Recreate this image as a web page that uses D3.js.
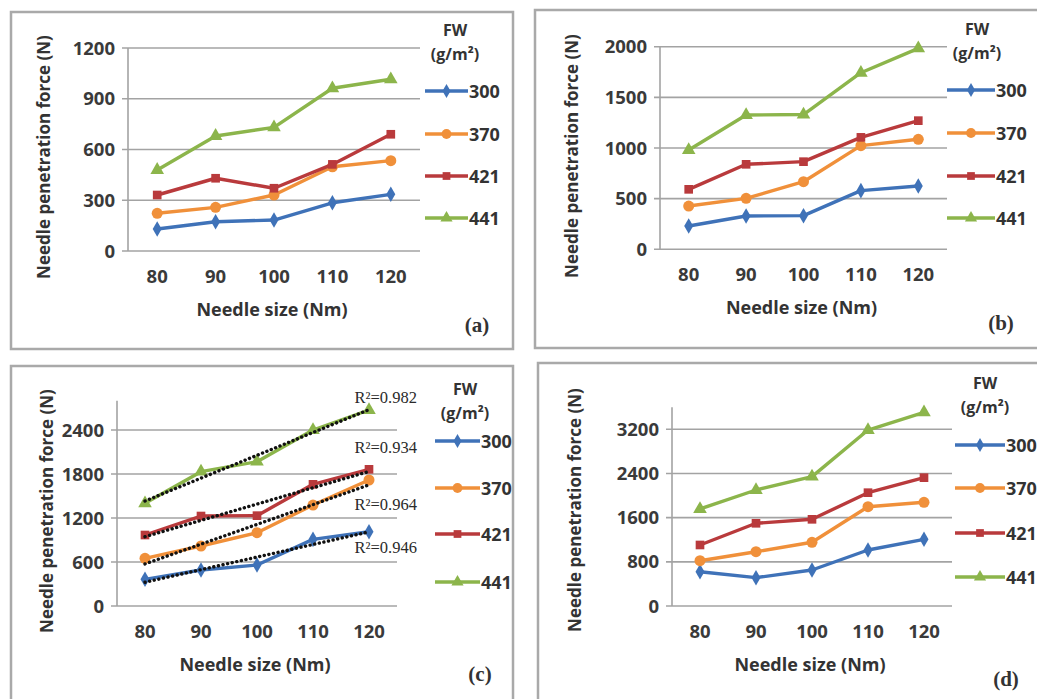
<!DOCTYPE html>
<html>
<head>
<meta charset="utf-8">
<script src="https://cdn.jsdelivr.net/npm/d3@7"></script>
<style>
  body { margin: 0; background: #fff; }
  svg { display: block; }
</style>
</head>
<body>
<svg id="chart" width="1037" height="699" font-family="'Open Sans', sans-serif"></svg>
<script>
// categories and series
var needleSizes = ["80", "90", "100", "110", "120"]
var fabricWeights = ["300", "370", "421", "441"]

// needle penetration force (N), one row per fabric weight
var forceA = [
  [130, 173, 183, 285, 335],
  [223, 258, 331, 498, 534],
  [331, 430, 371, 512, 690],
  [479, 680, 731, 962, 1015]
]
var forceB = [
  [230, 329, 332, 579, 625],
  [427, 503, 667, 1023, 1086],
  [592, 839, 865, 1105, 1270],
  [980, 1326, 1330, 1743, 1984]
]
var forceC = [
  [364, 491, 559, 909, 1013],
  [650, 818, 1000, 1377, 1718],
  [968, 1227, 1232, 1659, 1864],
  [1400, 1832, 1968, 2400, 2673]
]
var forceD = [
  [621, 513, 652, 1014, 1208],
  [820, 983, 1154, 1798, 1878],
  [1105, 1498, 1570, 2052, 2324],
  [1757, 2101, 2342, 3187, 3508]
]
var yTicksA = [0, 300, 600, 900, 1200]
var yTicksB = [0, 500, 1000, 1500, 2000]
var yTicksC = [0, 600, 1200, 1800, 2400]
var yTicksD = [0, 800, 1600, 2400, 3200]
// R² labels of the trend lines in (c), top to bottom
var r2Labels = ["R\u00b2=0.982", "R\u00b2=0.934", "R\u00b2=0.964", "R\u00b2=0.946"]

var colors = ["#3f72b8", "#f0903a", "#b93a3c", "#8cb54b"]
var symbols = [d3.symbolDiamond, d3.symbolCircle, d3.symbolSquare, d3.symbolTriangle]
var symSizes = [70, 95, 75, 80]

var svg = d3.select("#chart")

function drawPanel(p) {
    var g = svg.append("g")

    g.append("rect")
        .attr("x", p.frame[0]).attr("y", p.frame[1])
        .attr("width", p.frame[2] - p.frame[0]).attr("height", p.frame[3] - p.frame[1])
        .attr("fill", "none").attr("stroke", "#a9a9a9").attr("stroke-width", 2.5)

    var x = d3.scaleBand().domain(needleSizes).range([p.left, p.right])
    var y = d3.scaleLinear().domain([0, p.yMax]).range([p.zero, p.zero - p.yMax * p.pxPer])

    // gridlines
    g.selectAll(".grid").data(p.ticks).join("line")
        .attr("x1", p.left - 6).attr("x2", p.right)
        .attr("y1", d => y(d)).attr("y2", d => y(d))
        .attr("stroke", "#a3a3a3").attr("stroke-width", 1.6)

    g.append("line")
        .attr("x1", p.left).attr("x2", p.left)
        .attr("y1", y(p.yMax)).attr("y2", y(0))
        .attr("stroke", "#a3a3a3").attr("stroke-width", 1.6)

    g.selectAll(".ytick").data(p.ticks).join("text")
        .attr("x", p.left - 13).attr("y", d => y(d) + 6.5)
        .attr("text-anchor", "end")
        .attr("font-size", 18.5).attr("font-weight", 700).attr("fill", "#3a3a3a")
        .text(d => d)

    g.selectAll(".xtick").data(needleSizes).join("text")
        .attr("x", d => x(d) + x.bandwidth() / 2).attr("y", p.zero + 32)
        .attr("text-anchor", "middle")
        .attr("font-size", 18.5).attr("font-weight", 700).attr("fill", "#3a3a3a")
        .text(d => d)

    g.append("text")
        .attr("x", (p.left + p.right) / 2 - 2).attr("y", p.zero + 65)
        .attr("text-anchor", "middle")
        .attr("font-size", 18).attr("font-weight", 700).attr("fill", "#333")
        .text("Needle size (Nm)")

    g.append("text")
        .attr("transform", `translate(${p.ytx},${p.yty}) rotate(-90)`)
        .attr("text-anchor", "middle")
        .attr("font-size", 17).attr("font-weight", 700).attr("fill", "#333")
        .text(p.yTitle)

    g.append("text")
        .attr("x", p.tag[0]).attr("y", p.tag[1])
        .attr("text-anchor", "middle")
        .attr("font-family", "'Liberation Serif', serif")
        .attr("font-size", 21).attr("font-weight", 700).attr("fill", "#333")
        .text(p.label)

    var cx = (d, i) => x(needleSizes[i]) + x.bandwidth() / 2
    var line = d3.line().x(cx).y(d => y(d))

    p.data.forEach(function (vals, s) {
        g.append("path")
            .attr("d", line(vals))
            .attr("fill", "none").attr("stroke", colors[s]).attr("stroke-width", 3.4)
            .attr("stroke-linejoin", "round")
        g.selectAll(".m" + s).data(vals).join("path")
            .attr("transform", (d, i) => `translate(${cx(d, i)},${y(d)})`)
            .attr("d", d3.symbol().type(symbols[s]).size(symSizes[s]))
            .attr("fill", colors[s])
    })

    if (p.trend) {
        // linear trend lines (least squares on category index), like Excel
        p.data.forEach(function (vals) {
            var n = vals.length
            var xs = d3.range(1, n + 1)
            var mx = d3.mean(xs), my = d3.mean(vals)
            var b = d3.sum(xs, (v, i) => (v - mx) * (vals[i] - my)) / d3.sum(xs, v => (v - mx) * (v - mx))
            var a = my - b * mx
            g.append("line")
                .attr("x1", cx(0, 0)).attr("y1", y(a + b))
                .attr("x2", cx(0, n - 1)).attr("y2", y(a + b * n))
                .attr("stroke", "#111").attr("stroke-width", 3.4)
                .attr("stroke-dasharray", "0.1 4.6").attr("stroke-linecap", "round")
        })
        g.selectAll(".r2").data(r2Labels).join("text")
            .attr("x", 417).attr("y", (d, i) => p.r2y[i])
            .attr("text-anchor", "end")
            .attr("font-family", "'Liberation Serif', serif")
            .attr("font-size", 16.5).attr("fill", "#2a2a2a")
            .text(d => d)
    }

    // legend
    var lg = g.append("g")
    lg.append("text").attr("x", p.leg.x + 30).attr("y", p.leg.fw)
        .attr("text-anchor", "middle").attr("font-size", 16).attr("font-weight", 700).attr("fill", "#333")
        .text("FW")
    lg.append("text").attr("x", p.leg.x + 30).attr("y", p.leg.fw + 24)
        .attr("text-anchor", "middle").attr("font-size", 16).attr("font-weight", 700).attr("fill", "#333")
        .text("(g/m\u00b2)")
    fabricWeights.forEach(function (w, s) {
        var ly = p.leg.ys[s]
        lg.append("line")
            .attr("x1", p.leg.x).attr("x2", p.leg.x + p.leg.len)
            .attr("y1", ly).attr("y2", ly)
            .attr("stroke", colors[s]).attr("stroke-width", 3.4)
        lg.append("path")
            .attr("transform", `translate(${p.leg.x + p.leg.len / 2},${ly})`)
            .attr("d", d3.symbol().type(symbols[s]).size(symSizes[s] * 0.8))
            .attr("fill", colors[s])
        lg.append("text")
            .attr("x", p.leg.x + p.leg.len + 1).attr("y", ly + 6.5)
            .attr("font-size", 18).attr("font-weight", 700).attr("fill", "#333")
            .text(w)
    })
}

drawPanel({
    frame: [11, 12, 513, 349], left: 128, right: 420, zero: 251, yMax: 1200, pxPer: 203 / 1200,
    ticks: yTicksA, data: forceA, ytx: 50, yty: 157, yTitle: "Needle penetration force (N)",
    tag: [477, 332], label: "(a)",
    leg: { x: 425, len: 43, fw: 36, ys: [91, 134, 176, 218] }
})
drawPanel({
    frame: [535, 10, 1045, 348], left: 660, right: 947, zero: 249.3, yMax: 2000, pxPer: 202.6 / 2000,
    ticks: yTicksB, data: forceB, ytx: 578, yty: 156, yTitle: "Needle penetration force (N)",
    tag: [1001, 330], label: "(b)",
    leg: { x: 947, len: 48, fw: 35, ys: [90, 133, 176, 218] }
})
drawPanel({
    frame: [11, 366, 513, 710], left: 117, right: 397, zero: 606, yMax: 2800, pxPer: 176 / 2400,
    ticks: yTicksC, data: forceC, ytx: 53, yty: 511, yTitle: "Needle penetration force (N)",
    tag: [480, 681], label: "(c)", trend: true, r2y: [403, 453, 510, 553],
    leg: { x: 435, len: 45, fw: 395, ys: [441, 488, 534, 582] }
})
drawPanel({
    frame: [538, 363, 1045, 710], left: 672, right: 952, zero: 606, yMax: 3600, pxPer: 176.7 / 3200,
    ticks: yTicksD, data: forceD, ytx: 581, yty: 510, yTitle: "Needle penetration force (N)",
    tag: [1006, 686], label: "(d)",
    leg: { x: 955, len: 50, fw: 389, ys: [445, 488, 533, 577] }
})
</script>
</body>
</html>
